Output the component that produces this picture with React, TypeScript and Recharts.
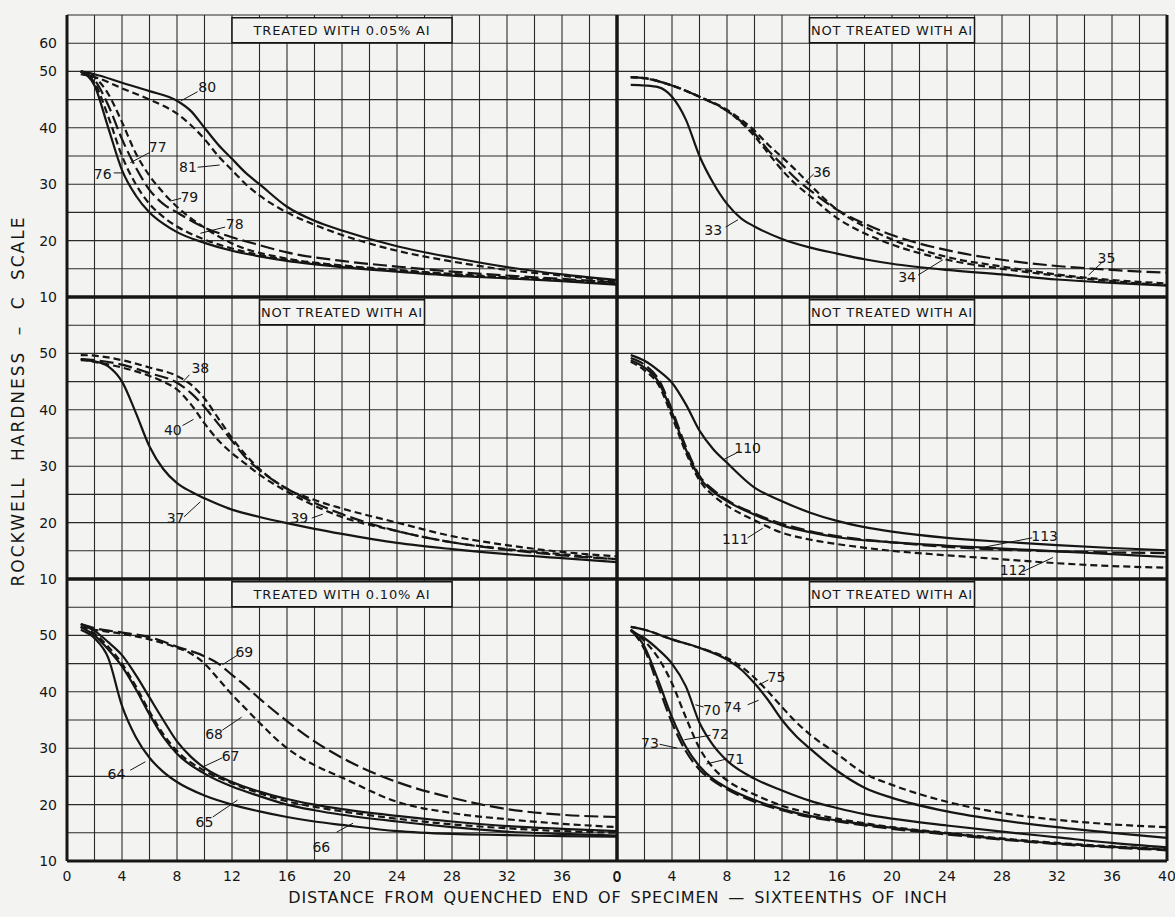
import {
  LineChart,
  Line,
  XAxis,
  YAxis,
  CartesianGrid,
  ReferenceLine,
  ReferenceArea,
  ReferenceDot,
} from "recharts";

type Pt = [number, number];

// ---- data (sixteenths of inch, Rockwell C) ----

const X_TICKS = [0, 2, 4, 6, 8, 10, 12, 14, 16, 18, 20, 22, 24, 26, 28, 30, 32, 34, 36, 38, 40];
const Y_TICKS = [10, 15, 20, 25, 30, 35, 40, 45, 50, 55, 60];

// top left: treated with 0.05% Al
const C76: Pt[] = [[1, 50], [2, 47.5], [3, 40], [4, 32.5], [5, 28], [6, 25], [7, 23], [8, 21.5], [10, 19.6], [12, 18.2], [14, 17.2], [16, 16.4], [20, 15.3], [24, 14.5], [28, 13.8], [32, 13.3], [36, 12.8], [40, 12.2]];
const C77: Pt[] = [[1, 50], [2, 48], [3, 42], [4, 35], [5, 30], [6, 26.5], [7, 24.2], [8, 22.5], [10, 20.2], [12, 18.6], [16, 16.6], [20, 15.5], [24, 14.7], [28, 14], [32, 13.4], [36, 12.9], [40, 12.3]];
const C78: Pt[] = [[1, 50], [2, 48.5], [3, 44], [4, 38], [5, 33], [6, 29], [7, 26.5], [8, 25], [10, 22.3], [12, 20.6], [14, 19.2], [16, 17.9], [20, 16.4], [24, 15.4], [28, 14.5], [32, 13.8], [36, 13.2], [40, 12.6]];
const C79: Pt[] = [[1, 50], [2, 49], [3, 46], [4, 41], [5, 35.5], [6, 31.5], [7, 28.5], [8, 26], [10, 22.3], [12, 19.5], [16, 16.8], [20, 15.6], [24, 14.8], [28, 14.1], [32, 13.5], [36, 13], [40, 12.5]];
const C80: Pt[] = [[1, 50], [2, 49.5], [4, 48], [6, 46.5], [8, 44.8], [9, 43], [10, 40], [11, 37], [12, 34.5], [13, 32], [14, 30], [16, 26], [18, 23.5], [20, 21.8], [24, 19], [28, 17], [32, 15.3], [36, 14], [40, 13]];
const C81: Pt[] = [[1, 49.5], [2, 49], [4, 47], [6, 45], [8, 42.5], [9, 40.5], [10, 38], [11, 35], [12, 32.5], [13, 30], [14, 28], [16, 25], [18, 22.8], [20, 21], [24, 18.2], [28, 16.3], [32, 14.8], [36, 13.8], [40, 12.7]];

// top right: not treated
const C33: Pt[] = [[1, 47.6], [2, 47.5], [3, 47.2], [4, 45.5], [5, 41.5], [6, 35], [7, 30.2], [8, 26.5], [9, 24], [10, 22.5], [12, 20.3], [14, 18.8], [16, 17.7], [18, 16.7], [20, 15.9], [24, 14.8], [28, 14], [32, 13.1], [36, 12.5], [40, 12]];
const C34: Pt[] = [[1, 49], [2, 48.8], [4, 47.5], [6, 45.5], [8, 43], [9, 41], [10, 38.5], [11, 35.5], [12, 32.5], [13, 30], [14, 28], [16, 24], [18, 21.3], [20, 19.3], [24, 16.6], [28, 15], [32, 13.8], [36, 12.8], [40, 12.1]];
const C35: Pt[] = [[1, 49], [2, 48.8], [4, 47.5], [6, 45.5], [8, 43], [9, 41.2], [10, 39], [11, 36], [12, 33.5], [13, 31], [14, 29], [16, 25.5], [18, 23], [20, 21], [24, 18.3], [28, 16.6], [32, 15.5], [36, 14.8], [40, 14.3]];
const C36: Pt[] = [[1, 49], [2, 48.8], [4, 47.5], [6, 45.5], [8, 43.2], [9, 41.5], [10, 39.5], [11, 37], [12, 34.8], [13, 32.5], [14, 30], [16, 25.5], [18, 22.5], [20, 20.2], [24, 17.1], [28, 15.4], [32, 14], [36, 13], [40, 12.4]];

// middle left: not treated
const C37: Pt[] = [[1, 48.8], [2, 48.6], [3, 47.7], [4, 45], [5, 39.5], [6, 33.5], [7, 29.5], [8, 27], [9, 25.5], [10, 24.3], [12, 22.3], [14, 21], [16, 19.9], [18, 18.9], [20, 18], [24, 16.4], [28, 15.3], [32, 14.4], [36, 13.7], [40, 13]];
const C38: Pt[] = [[1, 49.7], [2, 49.6], [4, 48.8], [6, 47.5], [8, 46], [9, 44.5], [10, 42], [11, 38.5], [12, 35], [13, 32], [14, 29.5], [16, 26], [18, 24], [20, 22.5], [24, 20], [28, 17.6], [32, 16], [36, 14.8], [40, 14]];
const C39: Pt[] = [[1, 49], [2, 48.8], [4, 48], [6, 46.5], [8, 44.8], [9, 43], [10, 40.5], [11, 37.5], [12, 34.5], [13, 31.5], [14, 29.3], [16, 26], [18, 23.5], [20, 21.5], [24, 18.5], [28, 16.5], [32, 15.2], [36, 14.2], [40, 13.5]];
const C40: Pt[] = [[1, 49], [2, 48.5], [4, 47.5], [6, 46], [7, 45], [8, 43.6], [9, 41], [10, 37.6], [11, 34.6], [12, 32.3], [13, 30.4], [14, 28.5], [16, 25.5], [18, 23], [20, 21], [24, 18.5], [28, 16.5], [32, 15.3], [36, 14.4], [40, 13.5]];

// middle right: not treated
const C110: Pt[] = [[1, 49.7], [2, 48.7], [3, 47], [4, 44.8], [5, 41], [6, 36.3], [7, 33], [8, 30.6], [10, 26.2], [12, 23.8], [14, 21.8], [16, 20.3], [18, 19.2], [20, 18.4], [24, 17.3], [28, 16.6], [32, 16], [36, 15.5], [40, 15.1]];
const C111: Pt[] = [[1, 48.8], [2, 47.5], [3, 45], [4, 39.5], [5, 33], [6, 28], [7, 25.5], [8, 23.8], [10, 21.4], [12, 19.5], [14, 18.3], [16, 17.4], [20, 16.5], [24, 15.9], [28, 15.4], [32, 14.9], [36, 14.4], [40, 13.9]];
const C112: Pt[] = [[1, 48.5], [2, 47], [3, 44.5], [4, 38.8], [5, 32.5], [6, 27.5], [7, 24.8], [8, 23], [10, 20.4], [12, 18.2], [14, 17], [16, 16.2], [20, 15], [24, 14.2], [28, 13.5], [32, 12.8], [36, 12.3], [40, 12]];
const C113: Pt[] = [[1, 49.2], [2, 48], [3, 45.5], [4, 40], [5, 33.5], [6, 28.3], [7, 25.8], [8, 24], [10, 21.6], [12, 19.8], [14, 18.5], [16, 17.6], [20, 16.5], [24, 15.7], [28, 15.2], [32, 14.9], [36, 14.7], [40, 14.6]];

// bottom left: treated with 0.10% Al
const C64: Pt[] = [[1, 51], [2, 49.5], [3, 46], [4, 37.5], [5, 32], [6, 28.3], [7, 25.8], [8, 24], [10, 21.6], [12, 20], [14, 18.8], [16, 17.8], [18, 17], [20, 16.4], [24, 15.3], [28, 14.8], [32, 14.6], [36, 14.4], [40, 14.3]];
const C65: Pt[] = [[1, 51.5], [2, 50], [3, 47.5], [4, 44.5], [5, 40.5], [6, 36], [7, 32], [8, 29], [10, 25.5], [12, 23.2], [14, 21.5], [16, 20], [18, 19], [20, 18.2], [24, 17], [28, 16], [32, 15.2], [36, 14.8], [40, 14.5]];
const C66: Pt[] = [[1, 51.5], [2, 50.3], [3, 48], [4, 45], [5, 41], [6, 36.5], [7, 32.5], [8, 29.5], [10, 26], [12, 23.8], [14, 22], [16, 20.6], [18, 19.6], [20, 18.8], [24, 17.5], [28, 16.5], [32, 15.8], [36, 15.3], [40, 15]];
const C67: Pt[] = [[1, 52], [2, 50.8], [3, 48.8], [4, 46.5], [5, 43], [6, 39], [7, 35], [8, 31.2], [9, 28.5], [10, 26.5], [12, 24], [14, 22.3], [16, 21], [18, 20], [20, 19.2], [24, 18], [28, 17], [32, 16.2], [36, 15.7], [40, 15.3]];
const C68: Pt[] = [[1, 51.5], [2, 51], [4, 50.3], [6, 49.3], [8, 47.8], [9, 46.8], [10, 45], [11, 42.3], [12, 39.5], [13, 37], [14, 34.5], [16, 30], [18, 27], [20, 24.8], [24, 20.5], [28, 18.5], [32, 17.4], [36, 16.6], [40, 16]];
const C69: Pt[] = [[1, 52], [2, 51.3], [4, 50.5], [6, 49.7], [8, 48], [10, 46.3], [11, 45], [12, 43], [13, 41], [14, 38.8], [16, 34.8], [18, 31.2], [20, 28.3], [24, 24], [28, 21.2], [32, 19.2], [36, 18.2], [40, 17.8]];

// bottom right: not treated
const C70: Pt[] = [[1, 50.8], [2, 49.5], [3, 47.5], [4, 45], [5, 41], [6, 34.5], [7, 30.5], [8, 27.8], [10, 24.6], [12, 22.5], [14, 20.7], [16, 19.4], [18, 18.3], [20, 17.5], [24, 16.3], [28, 15.2], [32, 14.2], [36, 13.2], [40, 12.4]];
const C71: Pt[] = [[1, 51], [2, 49], [3, 46], [4, 41.5], [5, 35.5], [6, 30], [7, 26.5], [8, 24.3], [10, 21.8], [12, 19.8], [14, 18.5], [16, 17.5], [18, 16.7], [20, 16], [24, 15], [28, 14], [32, 13.2], [36, 12.6], [40, 12.1]];
const C72: Pt[] = [[1, 51], [2, 48], [3, 42], [4, 35.5], [5, 30.3], [6, 26.8], [7, 24.5], [8, 23], [10, 20.8], [12, 19.2], [14, 18], [16, 17.2], [18, 16.5], [20, 15.9], [24, 14.9], [28, 13.9], [32, 13.1], [36, 12.5], [40, 12]];
const C73: Pt[] = [[1, 51], [2, 47.5], [3, 41], [4, 34.5], [5, 29.5], [6, 26.2], [7, 24.2], [8, 22.7], [10, 20.5], [12, 19], [14, 17.8], [16, 17], [18, 16.3], [20, 15.7], [24, 14.7], [28, 13.8], [32, 13], [36, 12.4], [40, 11.9]];
const C74: Pt[] = [[1, 51.5], [2, 51], [4, 49.3], [6, 47.8], [8, 45.7], [9, 44], [10, 41.5], [11, 38.5], [12, 35], [13, 32.2], [14, 30], [16, 26], [18, 23], [20, 21.2], [24, 18.8], [28, 17.2], [32, 16], [36, 15], [40, 14.1]];
const C75: Pt[] = [[1, 51.5], [2, 51], [4, 49.3], [6, 47.8], [8, 46], [9, 44.5], [10, 42.5], [11, 40], [12, 37.3], [13, 34.7], [14, 32.5], [16, 29], [18, 25.5], [20, 23.5], [24, 20.5], [28, 18.5], [32, 17.3], [36, 16.5], [40, 16]];

// ---- styling / layout ----

const FONT = "'DejaVu Sans', 'Liberation Sans', sans-serif";
const INK = "#161616";
const BG = "#f3f3f1";
const SOLID = undefined;
const SHORT = "7 4";
const LONG = "14 5";

const PLOT_W = 550;
const PLOT_H = 282;
const Y_W = 40;
const X_H = 34;
const PAD = 20; // room so edge tick labels are not clipped

type Curve = { id: string; pts: Pt[]; dash?: string };
type Note = { text: string; at: Pt; from: Pt; to: Pt };
type PanelCfg = {
  left: number;
  top: number;
  showY: boolean;
  xLabels?: "left" | "right";
  topPanel?: boolean;
  title: string;
  titleX: [number, number];
  curves: Curve[];
  notes: Note[];
};

const panels: PanelCfg[] = [
  {
    left: 67, top: 15, showY: true, topPanel: true,
    title: "TREATED WITH 0.05% AI", titleX: [12, 28],
    curves: [
      { id: "76", pts: C76, dash: SOLID },
      { id: "77", pts: C77, dash: SHORT },
      { id: "78", pts: C78, dash: LONG },
      { id: "79", pts: C79, dash: SHORT },
      { id: "80", pts: C80, dash: SOLID },
      { id: "81", pts: C81, dash: SHORT },
    ],
    notes: [
      { text: "80", at: [10.2, 47.2], from: [9.5, 46.4], to: [8.3, 44.8] },
      { text: "77", at: [6.6, 36.6], from: [6.0, 35.6], to: [4.6, 33.8] },
      { text: "76", at: [2.6, 31.8], from: [3.4, 32], to: [4.0, 32] },
      { text: "81", at: [8.8, 33.0], from: [9.5, 33], to: [11.1, 33.4] },
      { text: "79", at: [8.9, 27.7], from: [8.3, 27.5], to: [7.5, 27] },
      { text: "78", at: [12.2, 22.9], from: [11.5, 22.4], to: [9.7, 21.3] },
    ],
  },
  {
    left: 67, top: 297, showY: true,
    title: "NOT TREATED WITH AI", titleX: [14, 26],
    curves: [
      { id: "37", pts: C37, dash: SOLID },
      { id: "38", pts: C38, dash: SHORT },
      { id: "39", pts: C39, dash: LONG },
      { id: "40", pts: C40, dash: SHORT },
    ],
    notes: [
      { text: "38", at: [9.7, 47.4], from: [8.9, 46.2], to: [8.4, 44.9] },
      { text: "40", at: [7.7, 36.4], from: [8.4, 37.2], to: [9.2, 38.3] },
      { text: "37", at: [7.9, 20.8], from: [8.5, 21], to: [9.7, 23.7] },
      { text: "39", at: [16.9, 20.8], from: [17.8, 20.8], to: [18.6, 21.5] },
    ],
  },
  {
    left: 67, top: 579, showY: true, xLabels: "left",
    title: "TREATED WITH 0.10% AI", titleX: [12, 28],
    curves: [
      { id: "64", pts: C64, dash: SOLID },
      { id: "65", pts: C65, dash: SOLID },
      { id: "66", pts: C66, dash: SHORT },
      { id: "67", pts: C67, dash: SOLID },
      { id: "68", pts: C68, dash: SHORT },
      { id: "69", pts: C69, dash: LONG },
    ],
    notes: [
      { text: "69", at: [12.9, 47.1], from: [12.4, 46.5], to: [11.3, 44.8] },
      { text: "68", at: [10.7, 32.5], from: [11.3, 33.2], to: [12.7, 35.5] },
      { text: "64", at: [3.6, 25.4], from: [4.6, 26.1], to: [5.7, 27.6] },
      { text: "67", at: [11.9, 28.6], from: [11.3, 28.3], to: [9.9, 26.7] },
      { text: "65", at: [10.0, 16.9], from: [10.6, 17.8], to: [12.4, 20.8] },
      { text: "66", at: [18.5, 12.5], from: [19.6, 15.1], to: [20.8, 16.7] },
    ],
  },
  {
    left: 617, top: 15, showY: false, topPanel: true,
    title: "NOT TREATED WITH AI", titleX: [14, 26],
    curves: [
      { id: "33", pts: C33, dash: SOLID },
      { id: "34", pts: C34, dash: SHORT },
      { id: "35", pts: C35, dash: LONG },
      { id: "36", pts: C36, dash: SHORT },
    ],
    notes: [
      { text: "36", at: [14.9, 32.2], from: [14.3, 31.8], to: [13.7, 30.4] },
      { text: "33", at: [7.0, 21.9], from: [7.9, 22.4], to: [8.8, 23.7] },
      { text: "34", at: [21.1, 13.5], from: [21.9, 13.9], to: [23.7, 16.6] },
      { text: "35", at: [35.6, 16.9], from: [35.3, 16.2], to: [34.3, 13.9] },
    ],
  },
  {
    left: 617, top: 297, showY: false,
    title: "NOT TREATED WITH AI", titleX: [14, 26],
    curves: [
      { id: "110", pts: C110, dash: SOLID },
      { id: "111", pts: C111, dash: SOLID },
      { id: "112", pts: C112, dash: SHORT },
      { id: "113", pts: C113, dash: LONG },
    ],
    notes: [
      { text: "110", at: [9.5, 33.2], from: [8.8, 32.5], to: [7.7, 31.1] },
      { text: "111", at: [8.6, 17.1], from: [9.5, 17.3], to: [10.6, 19] },
      { text: "113", at: [31.1, 17.6], from: [30.2, 17.3], to: [26.4, 15.5] },
      { text: "112", at: [28.8, 11.6], from: [29.5, 11.3], to: [31.7, 13.8] },
    ],
  },
  {
    left: 617, top: 579, showY: false, xLabels: "right",
    title: "NOT TREATED WITH AI", titleX: [14, 26],
    curves: [
      { id: "70", pts: C70, dash: SOLID },
      { id: "71", pts: C71, dash: SHORT },
      { id: "72", pts: C72, dash: SOLID },
      { id: "73", pts: C73, dash: LONG },
      { id: "74", pts: C74, dash: SOLID },
      { id: "75", pts: C75, dash: SHORT },
    ],
    notes: [
      { text: "75", at: [11.6, 42.6], from: [11, 42.1], to: [10.3, 41.2] },
      { text: "74", at: [8.4, 37.3], from: [9.5, 37.7], to: [10.3, 38.5] },
      { text: "70", at: [6.9, 36.7], from: [6.3, 37.3], to: [5.7, 37.7] },
      { text: "72", at: [7.5, 32.6], from: [6.8, 32.3], to: [4.9, 31.5] },
      { text: "73", at: [2.4, 30.9], from: [3.1, 30.7], to: [4.4, 30] },
      { text: "71", at: [8.6, 28.1], from: [8, 28.1], to: [6.5, 27.2] },
    ],
  },
];

function Panel({ cfg }: { cfg: PanelCfg }) {
  const yW = cfg.showY ? Y_W : 0;
  const xH = cfg.xLabels ? X_H : 0;
  const width = PAD + yW + PLOT_W + PAD;
  const height = PAD + PLOT_H + xH + PAD;

  const fmtY = (v: number) => {
    if (cfg.topPanel && v === 55) return "60";
    if (v % 10 !== 0 || v === 60) return "";
    return String(v);
  };
  const fmtX = (v: number) => {
    if (v % 4 !== 0) return "";
    if (v === 40 && cfg.xLabels === "left") return "";
    return String(v);
  };

  const tickStyle = { fill: INK, fontSize: 14, fontFamily: FONT };

  return (
    <div style={{ position: "absolute", left: cfg.left - yW - PAD, top: cfg.top - PAD }}>
      <LineChart
        width={width}
        height={height}
        margin={{ top: PAD, right: PAD, bottom: PAD, left: PAD }}
      >
        <CartesianGrid stroke="#2a2a2a" strokeWidth={1.1} />
        <XAxis
          type="number"
          dataKey="x"
          domain={[0, 40]}
          ticks={X_TICKS}
          interval={0}
          hide={!cfg.xLabels}
          height={X_H}
          axisLine={false}
          tickLine={false}
          tickSize={0}
          tickMargin={10}
          tickFormatter={fmtX}
          tick={tickStyle}
        />
        <YAxis
          type="number"
          dataKey="y"
          domain={[10, 60]}
          ticks={Y_TICKS}
          interval={0}
          hide={!cfg.showY}
          width={Y_W}
          axisLine={false}
          tickLine={false}
          tickSize={0}
          tickMargin={10}
          tickFormatter={fmtY}
          tick={tickStyle}
        />
        <ReferenceArea
          x1={cfg.titleX[0]}
          x2={cfg.titleX[1]}
          y1={55.1}
          y2={59.5}
          fill={BG}
          fillOpacity={1}
          stroke={INK}
          strokeWidth={1.5}
          label={{
            value: cfg.title,
            position: "center",
            fill: INK,
            fontSize: 13,
            fontFamily: FONT,
            letterSpacing: 0.8,
          }}
        />
        {cfg.curves.map((c) => (
          <Line
            key={c.id}
            data={c.pts.map(([x, y]) => ({ x, y }))}
            dataKey="y"
            type="monotone"
            stroke={INK}
            strokeWidth={2.2}
            strokeDasharray={c.dash}
            dot={false}
            activeDot={false}
            isAnimationActive={false}
          />
        ))}
        {cfg.notes.map((n) => (
          <ReferenceLine
            key={"l" + n.text}
            segment={[
              { x: n.from[0], y: n.from[1] },
              { x: n.to[0], y: n.to[1] },
            ]}
            stroke={INK}
            strokeWidth={1}
          />
        ))}
        {cfg.notes.map((n) => (
          <ReferenceDot
            key={"t" + n.text}
            x={n.at[0]}
            y={n.at[1]}
            r={0}
            fill="none"
            stroke="none"
            label={{ value: n.text, position: "center", fill: INK, fontSize: 14, fontFamily: FONT }}
          />
        ))}
        <ReferenceLine x={0} stroke={INK} strokeWidth={3} />
        <ReferenceLine x={40} stroke={INK} strokeWidth={3} />
        <ReferenceLine y={10} stroke={INK} strokeWidth={3} />
        {!cfg.topPanel && <ReferenceLine y={60} stroke={INK} strokeWidth={3} />}
      </LineChart>
    </div>
  );
}

export default function App() {
  return (
    <div
      style={{
        position: "absolute",
        left: 0,
        top: 0,
        width: 1175,
        height: 917,
        background: BG,
        fontFamily: FONT,
        color: INK,
        overflow: "hidden",
      }}
    >
      {panels.map((p, i) => (
        <Panel key={i} cfg={p} />
      ))}
      {/* start of the right-hand distance scale, on the seam between the panels */}
      <div
        style={{
          position: "absolute",
          left: 617,
          top: 877,
          transform: "translate(-50%, -50%)",
          fontSize: 14,
          lineHeight: "16px",
          zIndex: 2,
        }}
      >
        0
      </div>
      <div
        style={{
          position: "absolute",
          left: 18,
          top: 401,
          transform: "translate(-50%, -50%) rotate(-90deg)",
          whiteSpace: "nowrap",
          fontSize: 17,
          letterSpacing: 2,
          wordSpacing: 8,
        }}
      >
        ROCKWELL HARDNESS – C SCALE
      </div>
      <div
        style={{
          position: "absolute",
          left: 618,
          top: 897,
          transform: "translate(-50%, -50%)",
          whiteSpace: "nowrap",
          fontSize: 16,
          letterSpacing: 0.9,
          wordSpacing: 3,
        }}
      >
        DISTANCE FROM QUENCHED END OF SPECIMEN — SIXTEENTHS OF INCH
      </div>
    </div>
  );
}
